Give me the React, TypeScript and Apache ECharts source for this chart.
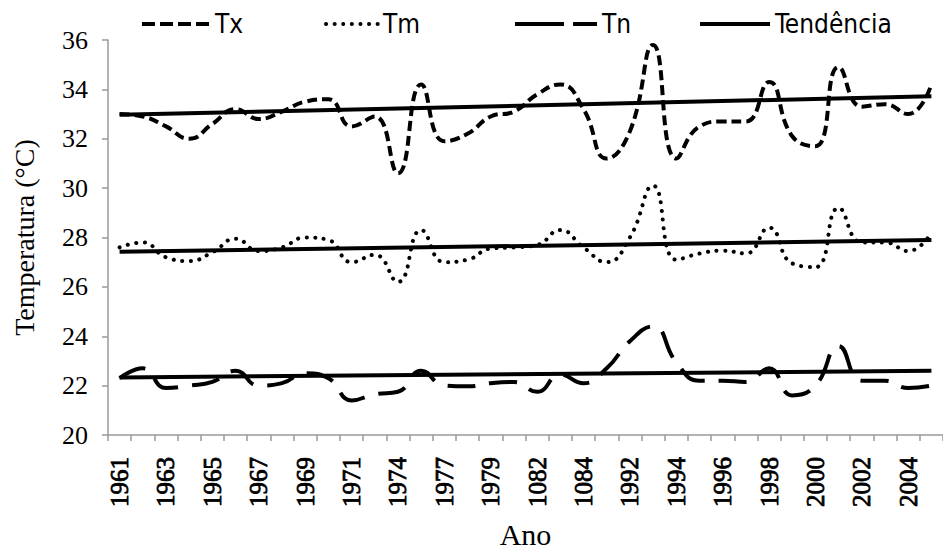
import React, { useEffect, useRef } from "react";
import * as echarts from "echarts";

const years = [
  "1961", "1962", "1963", "1964", "1965", "1966", "1967", "1968", "1969", "1970", "1971",
  "1973", "1974", "1976", "1977", "1978", "1979", "1981", "1082", "1983", "1084", "1985",
  "1992", "1993", "1994", "1995", "1996", "1997", "1998", "1999", "2000", "2001", "2002", "2003", "2004", "2005",
];

const tx = [33.0, 32.9, 32.5, 32.0, 32.6, 33.2, 32.8, 33.1, 33.5, 33.6, 32.5, 32.9, 30.6, 34.2, 31.9, 32.2, 32.9, 33.1, 33.8, 34.2, 33.2, 31.2, 32.3, 35.8, 31.2, 32.5, 32.7, 32.7, 34.3, 32.1, 31.7, 34.9, 33.3, 33.4, 33.0, 34.2];
const tm = [27.6, 27.8, 27.2, 27.05, 27.4, 27.95, 27.45, 27.6, 28.0, 27.9, 27.0, 27.3, 26.2, 28.3, 27.0, 27.1, 27.55, 27.6, 27.7, 28.3, 27.6, 27.0, 28.0, 30.1, 27.1, 27.35, 27.47, 27.35, 28.4, 26.95, 26.8, 29.2, 27.8, 27.8, 27.45, 28.2];
const tn = [22.3, 22.7, 21.9, 22.0, 22.15, 22.6, 22.0, 22.1, 22.5, 22.3, 21.4, 21.65, 21.75, 22.6, 22.0, 21.97, 22.1, 22.15, 21.75, 22.45, 22.1, 22.7, 23.8, 24.4, 22.95, 22.2, 22.2, 22.15, 22.7, 21.6, 22.0, 23.6, 22.2, 22.2, 21.9, 22.0];

// trend line endpoints (first and last year)
const trendTx = [32.97, 33.72];
const trendTm = [27.42, 27.9];
const trendTn = [22.33, 22.6];

const yTicks = { min: 20, max: 36, interval: 2 };

const serif = "Liberation Serif, serif";
const narrow = "DejaVu Sans Condensed, sans-serif";

export default function App() {
  const ref = useRef<HTMLDivElement>(null);
  useEffect(() => {
    if (!ref.current) return;
    document.body.style.margin = "0";
    const chart = echarts.init(ref.current, null, { renderer: "svg" });
    const last = years.length - 1;
    const trend = (v: number[]) => [[years[0], v[0]], [years[last], v[1]]];
    const legendText = { fontFamily: narrow, fontSize: 26, color: "#000" };
    const mkLegend = (name: string, left: number, w: number, dash: any, cap = "butt") => ({
      data: [name],
      left,
      top: 6,
      itemWidth: w,
      itemHeight: 14,
      itemGap: 0,
      textStyle: legendText,
      itemStyle: { opacity: 0, color: "transparent", borderWidth: 0 },
      lineStyle: { type: dash, width: 4, color: "#000", cap },
    });
    const lineBase = { type: "line", symbol: "none", showSymbol: false, smooth: 0.5, z: 3, color: "#000" };
    chart.setOption({
      animation: false,
      backgroundColor: "#fff",
      legend: [
        mkLegend("Tx", 135, 68, [13, 5]),
        mkLegend("Tm", 319, 52, [0.1, 8.5], "round"),
        mkLegend("Tn", 508, 82, [49, 9, 24, 200]),
        mkLegend("Tendência", 693, 70, "solid"),
      ],
      grid: { left: 108, top: 40, width: 846, height: 396, containLabel: false },
      xAxis: {
        type: "category",
        data: years,
        boundaryGap: true,
        name: "Ano",
        nameLocation: "middle",
        nameGap: 84,
        nameTextStyle: { fontFamily: serif, fontSize: 30, color: "#000" },
        axisLine: { show: true, lineStyle: { color: "#9a9a9a", width: 1.5 } },
        axisTick: { show: true, interval: 0, length: 6, lineStyle: { color: "#9a9a9a", width: 1.5 } },
        axisLabel: {
          show: true,
          interval: 1,
          rotate: 90,
          margin: 22,
          fontFamily: serif,
          fontSize: 25,
          color: "#000",
          textBorderColor: "#000",
          textBorderWidth: 0.8,
        },
        splitLine: { show: false },
      },
      yAxis: {
        type: "value",
        min: yTicks.min,
        max: yTicks.max,
        interval: yTicks.interval,
        name: "Temperatura (°C)",
        nameLocation: "middle",
        nameGap: 70,
        nameTextStyle: { fontFamily: serif, fontSize: 28, color: "#000" },
        axisLine: { show: true, lineStyle: { color: "#9a9a9a", width: 1.5 } },
        axisTick: { show: true, length: 6, lineStyle: { color: "#9a9a9a", width: 1.5 } },
        axisLabel: { margin: 20, fontFamily: serif, fontSize: 26, color: "#000" },
        splitLine: { show: false },
      },
      series: [
        { ...lineBase, name: "Tx", data: tx, lineStyle: { color: "#000", width: 4, type: [10, 5] } },
        { ...lineBase, name: "Tm", data: tm, lineStyle: { color: "#000", width: 4, type: [0.1, 8.5], cap: "round" } },
        { ...lineBase, name: "Tn", data: tn, lineStyle: { color: "#000", width: 4, type: [28, 14] } },
        { type: "line", symbol: "none", color: "#000", name: "Tendência", data: trend(trendTx), lineStyle: { color: "#000", width: 4 }, z: 4 },
        { type: "line", symbol: "none", color: "#000", name: "Tendência", data: trend(trendTm), lineStyle: { color: "#000", width: 4 }, z: 4 },
        { type: "line", symbol: "none", color: "#000", name: "Tendência", data: trend(trendTn), lineStyle: { color: "#000", width: 4 }, z: 4 },
      ],
    });
    return () => chart.dispose();
  }, []);
  return <div ref={ref} style={{ width: 943, height: 554 }} />;
}
